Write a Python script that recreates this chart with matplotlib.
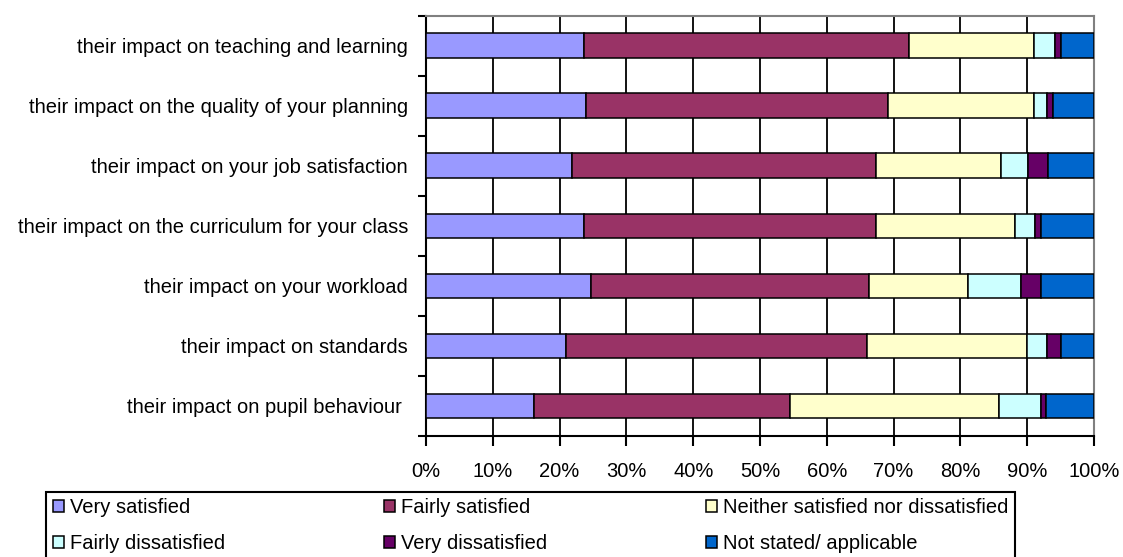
import matplotlib
matplotlib.use("Agg")
import matplotlib.pyplot as plt
import numpy as np

plt.rcParams['font.family'] = ['Liberation Sans', 'DejaVu Sans']

categories = [
    "their impact on teaching and learning",
    "their impact on the quality of your planning",
    "their impact on your job satisfaction",
    "their impact on the curriculum for your class",
    "their impact on your workload",
    "their impact on standards",
    "their impact on pupil behaviour ",
]
series_names = [
    "Very satisfied",
    "Fairly satisfied",
    "Neither satisfied nor dissatisfied",
    "Fairly dissatisfied",
    "Very dissatisfied",
    "Not stated/ applicable",
]
very_satisfied = [23.7, 24.0, 21.8, 23.7, 24.7, 21.0, 16.2]
fairly_satisfied = [48.6, 45.1, 45.5, 43.6, 41.6, 45.0, 38.3]
neither = [18.7, 21.9, 18.8, 20.9, 14.8, 24.0, 31.3]
fairly_dissatisfied = [3.2, 2.0, 4.0, 2.9, 7.9, 3.0, 6.2]
very_dissatisfied = [0.8, 0.9, 3.0, 1.0, 3.0, 2.1, 0.8]
not_stated = [5.0, 6.1, 6.9, 7.9, 8.0, 4.9, 7.2]
colors = ["#9999FF", "#993366", "#FFFFCC", "#CCFFFF", "#660066", "#0066CC"]
x_ticks = [0, 10, 20, 30, 40, 50, 60, 70, 80, 90, 100]
x_tick_labels = ["0%", "10%", "20%", "30%", "40%", "50%", "60%", "70%", "80%", "90%", "100%"]

series = [very_satisfied, fairly_satisfied, neither, fairly_dissatisfied,
          very_dissatisfied, not_stated]

FS = 14.5

fig = plt.figure(figsize=(11.23, 5.57), dpi=100)
ax = fig.add_axes([426 / 1123, 1 - 436 / 557, (1094 - 426) / 1123, (436 - 15.7) / 557])

y = np.arange(len(categories))
left = np.zeros(len(categories))
handles = []
for vals, col, name in zip(series, colors, series_names):
    vals = np.array(vals)
    b = ax.barh(y, vals, left=left, height=0.41, color=col, edgecolor="black",
                linewidth=1.1, label=name, zorder=3)
    handles.append(b)
    left += vals

ax.set_xlim(0, 100)
ax.set_ylim(len(categories) - 0.5, -0.5)
ax.set_xticks(x_ticks)
ax.set_xticklabels(x_tick_labels, fontsize=FS)
ax.set_yticks(y)
ax.set_yticklabels(categories, fontsize=FS)
ax.set_yticks(np.arange(len(categories) + 1) - 0.5, minor=True)
ax.tick_params(axis='y', which='major', length=0, pad=13)
ax.tick_params(axis='y', which='minor', length=6, width=1.5, direction='out', color='black')
ax.tick_params(axis='x', which='major', length=7, width=1.5, direction='out', pad=12, color='black')

ax.grid(axis='x', color='black', linewidth=1.3, zorder=1)
ax.set_axisbelow(True)
ax.spines['left'].set_color('black')
ax.spines['left'].set_linewidth(1.5)
ax.spines['bottom'].set_color('black')
ax.spines['bottom'].set_linewidth(1.5)
ax.spines['top'].set_color('#808080')
ax.spines['top'].set_linewidth(1.5)
ax.spines['right'].set_color('#808080')
ax.spines['right'].set_linewidth(1.5)

# legend is filled column-wise; order so that rows read like the reference
order = [0, 3, 1, 4, 2, 5]
leg = fig.legend(handles=[handles[i] for i in order],
                 labels=[series_names[i] for i in order], ncol=3,
                 loc='upper left',
                 bbox_to_anchor=(46 / 1123, 1 - 491.7 / 557 - 0.01, (1015 - 46) / 1123, 0.01),
                 mode='expand', fontsize=FS, frameon=True, fancybox=False,
                 edgecolor='black', framealpha=1, borderpad=0.33, labelspacing=0.82,
                 handlelength=0.55, handleheight=0.55, handletextpad=0.3,
                 borderaxespad=0)
leg.get_frame().set_linewidth(1.5)

fig.savefig("out.png", dpi=100)
